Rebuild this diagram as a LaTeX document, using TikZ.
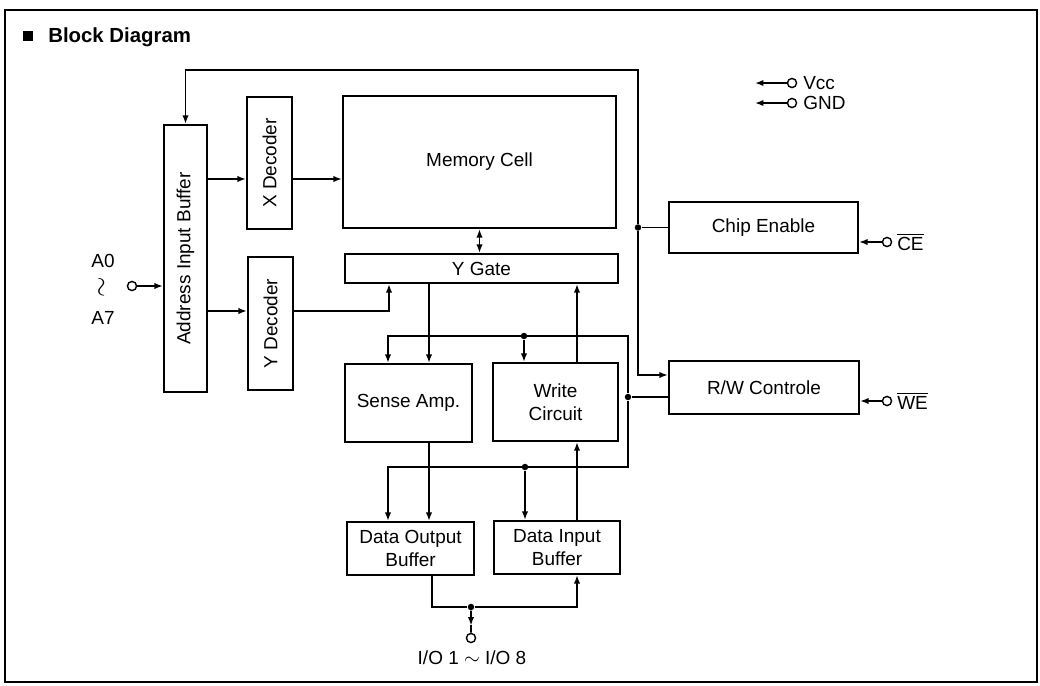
\documentclass[tikz,border=0pt]{standalone}
\usepackage{amsmath}
\usepackage{fontspec}
\setmainfont{Liberation Sans}
\usepackage{tikz}
\usetikzlibrary{calc,positioning,arrows.meta}

\newcommand\lbl{\fontsize{13.5}{16}\selectfont}

\begin{document}
\begin{tikzpicture}[x=0.025cm, y=-0.025cm,
  blk/.style={draw, line width=1.6pt, inner sep=1pt, align=center, font=\lbl},
  wire/.style={line width=1.1pt},
  arr/.style={wire, -{Latex[length=6pt,width=4.5pt]}},
  jdot/.style={circle, fill, inner sep=0pt, minimum size=4.6pt},
  pin/.style={circle, draw, line width=1pt, fill=white, inner sep=0pt, minimum size=6.5pt},
  txt/.style={inner sep=0pt, font=\lbl}]
\useasboundingbox (0,0) rectangle (1040,685);
% frame and title
\draw[line width=1.3pt] (5,10) rectangle (1037,682);
\fill (23,31) rectangle (33,41);
\node[anchor=base west, inner sep=0pt, font=\bfseries\fontsize{14.5}{17}\selectfont] (title) at (48,42) {Block Diagram};

% blocks
\node[blk, minimum width=1.075cm, minimum height=6.675cm] (addr) at (185.5,258.5) {};
\node[txt, rotate=90] at (addr) {Address Input Buffer};
\node[blk, minimum width=1.125cm, minimum height=3.3cm] (xdec) at (269.5,163) {};
\node[txt, rotate=90] at (xdec) {X Decoder};
\node[blk, minimum width=1.125cm, minimum height=3.325cm] (ydec) at (270.5,323.5) {};
\node[txt, rotate=90] at (ydec) {Y Decoder};
\node[blk, minimum width=6.825cm, minimum height=3.3cm] (mem) at (479.5,162) {Memory Cell};
\node[blk, minimum width=6.825cm, minimum height=0.725cm] (ygate) at (481.5,268.5) {Y Gate};
\node[blk, minimum width=3.175cm, minimum height=1.95cm] (sense) at (408.5,403) {Sense Amp.};
\node[blk, minimum width=3.125cm, minimum height=1.95cm] (write) at (555.5,402) {Write\\Circuit};
\node[blk, minimum width=3.175cm, minimum height=1.325cm] (dout) at (410.5,548.5) {Data Output\\Buffer};
\node[blk, minimum width=3.15cm, minimum height=1.325cm] (din) at (557,547.5) {Data Input\\Buffer};
\node[blk, minimum width=4.725cm, minimum height=1.275cm] (chip) at (763.5,227.5) {Chip Enable};
\node[blk, minimum width=4.75cm, minimum height=1.325cm] (rw) at (764,387.5) {R/W Controle};

% rows and columns of the wires
\coordinate (xRow) at (0,179);
\coordinate (yRow) at (0,311);
\coordinate (topRow) at (0,70);
\coordinate (ydX) at (389,0);
\coordinate (rdX) at (429,0);
\coordinate (wrX) at (577,0);
\coordinate (outX) at (432,0);

% address inputs
\node[pin] (apin) at (132,286) {};
\node[txt] (a0) at (103,261) {A0};
\node[txt, rotate=90, scale=1.3] (asq) at (103,287) {$\sim$};
\node[txt] (a7) at (103,318) {A7};
\draw[arr] (apin) -- (apin -| addr.west);
\draw[arr] (addr.east |- xRow) -- (xdec.west |- xRow);
\draw[arr] (xdec.east |- xRow) -- (mem.west |- xRow);
\draw[arr] (addr.east |- yRow) -- (ydec.west |- yRow);
\draw[arr] (ydec.east |- yRow) -| (ygate.south -| ydX);

% memory cell and data path
\draw[wire, {Latex[length=6pt,width=4.5pt]}-{Latex[length=6pt,width=4.5pt]}] (mem.south) -- (mem.south |- ygate.north);
\draw[arr] (ygate.south -| rdX) -- (sense.north -| rdX);
\draw[arr] (sense.south -| rdX) -- (dout.north -| rdX);
\draw[arr] (write.north -| wrX) -- (ygate.south -| wrX);
\draw[arr] (din.north -| wrX) -- (write.south -| wrX);

% chip enable
\node[jdot] (ceJ) at (638,227.5) {};
\draw[wire] (chip.west) -- (ceJ);
\draw[arr] (ceJ) -- (ceJ |- topRow) -| (addr.north);
\draw[arr] (ceJ) |- ($(rw.west)+(0,-12.5)$);
\node[pin] (cepin) at (887,242) {};
\draw[arr] (cepin) -- (cepin -| chip.east);
\node[txt, anchor=west] (celbl) at (897,242) {$\overline{\text{CE}}$};

% read/write control
\node[jdot] (rwJ) at (628,397) {};
\draw[wire] (rwJ -| rw.west) -- (rwJ);
\draw[arr] (rwJ) |- (388,336) -- (sense.north -| 388,0);
\draw[arr] (rwJ) |- (388,467) -- (dout.north -| 388,0);
\node[jdot] (jT) at (524,336) {};
\draw[arr] (jT) -- (jT |- write.north);
\node[jdot] (jB) at (525,467) {};
\draw[arr] (jB) -- (jB |- din.north);
\node[pin] (wepin) at (887,401) {};
\draw[arr] (wepin) -- (wepin -| rw.east);
\node[txt, anchor=west] (welbl) at (897,401) {$\overline{\text{WE}}$};

% data in/out pins
\node[jdot] (ioJ) at (471,607) {};
\draw[wire] (dout.south -| outX) |- (ioJ);
\draw[arr] (ioJ) -| (din.south -| wrX);
\node[pin] (iopin) at (471,638) {};
\draw[arr] (ioJ) -- ($(ioJ)!0.72!(iopin.north)$);
\draw[wire] ($(ioJ)!0.7!(iopin.north)$) -- (iopin.north);
\node[txt] (iolbl) at (472,658) {I/O 1 $\sim$ I/O 8};

% supply pins
\node[pin] (vccpin) at (792,83) {};
\coordinate (vccT) at (755,83);
\draw[arr] (vccpin) -- (vccT);
\node[txt, anchor=west] (vcclbl) at (803,83) {Vcc};
\node[pin] (gndpin) at (792,103) {};
\coordinate (gndT) at (755,103);
\draw[arr] (gndpin) -- (gndT);
\node[txt, anchor=west] (gndlbl) at (803,103) {GND};
\end{tikzpicture}
\end{document}
